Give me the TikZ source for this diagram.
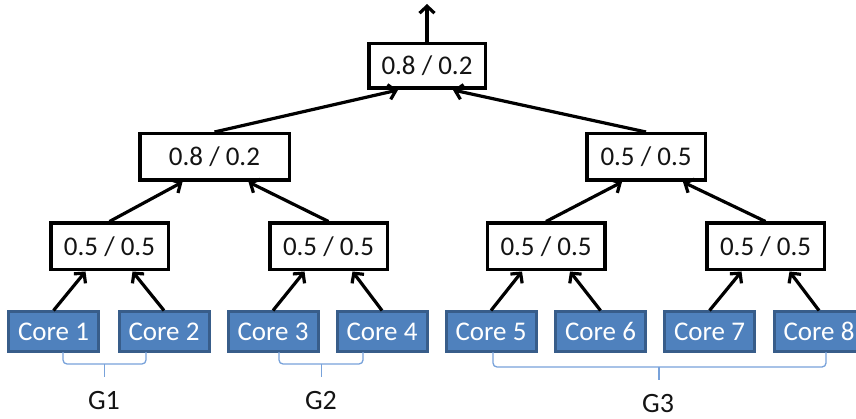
\documentclass[tikz,border=0pt]{standalone}
\usepackage{fontspec}
\setmainfont{Carlito}
\usetikzlibrary{arrows.meta,calc}

\definecolor{corefill}{RGB}{79,129,189}
\definecolor{coreline}{RGB}{56,93,138}
\definecolor{bracecol}{RGB}{120,162,218}
\definecolor{inkcol}{RGB}{20,20,20}

\tikzset{
  every node/.style={font=\fontsize{27}{32}\selectfont},
  core/.style={draw=coreline, fill=corefill, line width=3pt, text=white,
    minimum width=90pt, minimum height=39pt, inner sep=0pt},
  ratio/.style={draw=black, fill=white, line width=3.5pt, text=inkcol,
    minimum height=46.5pt, inner sep=0pt},
  arr/.style={line width=3.2pt, draw=black,
    -{Straight Barb[length=7pt,width=15pt]}},
  brace/.style={draw=bracecol, line width=1.3pt, rounded corners=4pt},
  grp/.style={text=inkcol, font=\fontsize{28}{32}\selectfont}
}

\begin{document}
\begin{tikzpicture}[x=1pt,y=-1pt]
  \useasboundingbox (0,0) rectangle (856,419);

  % leaf cores
  \node[core] (c1) at (53.5,331.5) {Core 1};
  \node[core] (c2) at (164,331.5) {Core 2};
  \node[core] (c3) at (273,331.5) {Core 3};
  \node[core] (c4) at (382,331.5) {Core 4};
  \node[core] (c5) at (491,331.5) {Core 5};
  \node[core] (c6) at (600.5,331.5) {Core 6};
  \node[core] (c7) at (709.5,331.5) {Core 7};
  \node[core] (c8) at (819,331.5) {Core 8};

  % first level of split nodes
  \node[ratio, minimum width=117.5pt] (a1) at (109.5,246.5) {0.5 / 0.5};
  \node[ratio, minimum width=117.5pt] (a2) at (328.5,246.5) {0.5 / 0.5};
  \node[ratio, minimum width=117.5pt] (a3) at (546,246.5) {0.5 / 0.5};
  \node[ratio, minimum width=117.5pt] (a4) at (765.5,246.5) {0.5 / 0.5};

  % second level
  \node[ratio, minimum width=149.5pt, minimum height=46.5pt] (b1) at (214.5,157) {0.8 / 0.2};
  \node[ratio, minimum width=118.5pt, minimum height=46.5pt] (b2) at (646,157) {0.5 / 0.5};

  % root
  \node[ratio, minimum width=116.5pt, minimum height=44.5pt] (r) at (427,66) {0.8 / 0.2};
  \coordinate (out) at (427,4);

  % connectors
  \draw[arr] (c1.north) -- ($(a1.south)+(-24,0)$);
  \draw[arr] (c2.north) -- ($(a1.south)+(23,0)$);
  \draw[arr] (c3.north) -- ($(a2.south)+(-24,0)$);
  \draw[arr] (c4.north) -- ($(a2.south)+(24,0)$);
  \draw[arr] (c5.north) -- ($(a3.south)+(-24,0)$);
  \draw[arr] (c6.north) -- ($(a3.south)+(24,0)$);
  \draw[arr] (c7.north) -- ($(a4.south)+(-24,0)$);
  \draw[arr] (c8.north) -- ($(a4.south)+(24,0)$);

  \draw[arr] (a1.north) -- ($(b1.south)+(-32,0)$);
  \draw[arr] (a2.north) -- ($(b1.south)+(34,0)$);
  \draw[arr] (a3.north) -- ($(b2.south)+(-24,0)$);
  \draw[arr] (a4.north) -- ($(b2.south)+(37,0)$);

  \draw[arr] (b1.north) -- ($(r.south)+(-29,0)$);
  \draw[arr] (b2.north) -- ($(r.south)+(26,0)$);

  \draw[arr] (r.north) -- (out);

  % group braces
  \coordinate (g1l) at (63,352);
  \coordinate (g1r) at (146,352);
  \coordinate (g1m) at (104.5,364);
  \coordinate (g1t) at (104.5,377);
  \draw[brace] (g1l) |- (g1m) -| (g1r);
  \draw[brace] (g1m) -- (g1t);

  \coordinate (g2l) at (279,352);
  \coordinate (g2r) at (363,352);
  \coordinate (g2m) at (321.5,364);
  \coordinate (g2t) at (321.5,377);
  \draw[brace] (g2l) |- (g2m) -| (g2r);
  \draw[brace] (g2m) -- (g2t);

  \coordinate (g3l) at (493,352);
  \coordinate (g3r) at (826,352);
  \coordinate (g3m) at (659,367);
  \coordinate (g3t) at (659,380);
  \draw[brace] (g3l) |- (g3m) -| (g3r);
  \draw[brace] (g3m) -- (g3t);

  \node[grp] (G1) at (104,401) {G1};
  \node[grp] (G2) at (321,401) {G2};
  \node[grp] (G3) at (658,404) {G3};
\end{tikzpicture}
\end{document}
